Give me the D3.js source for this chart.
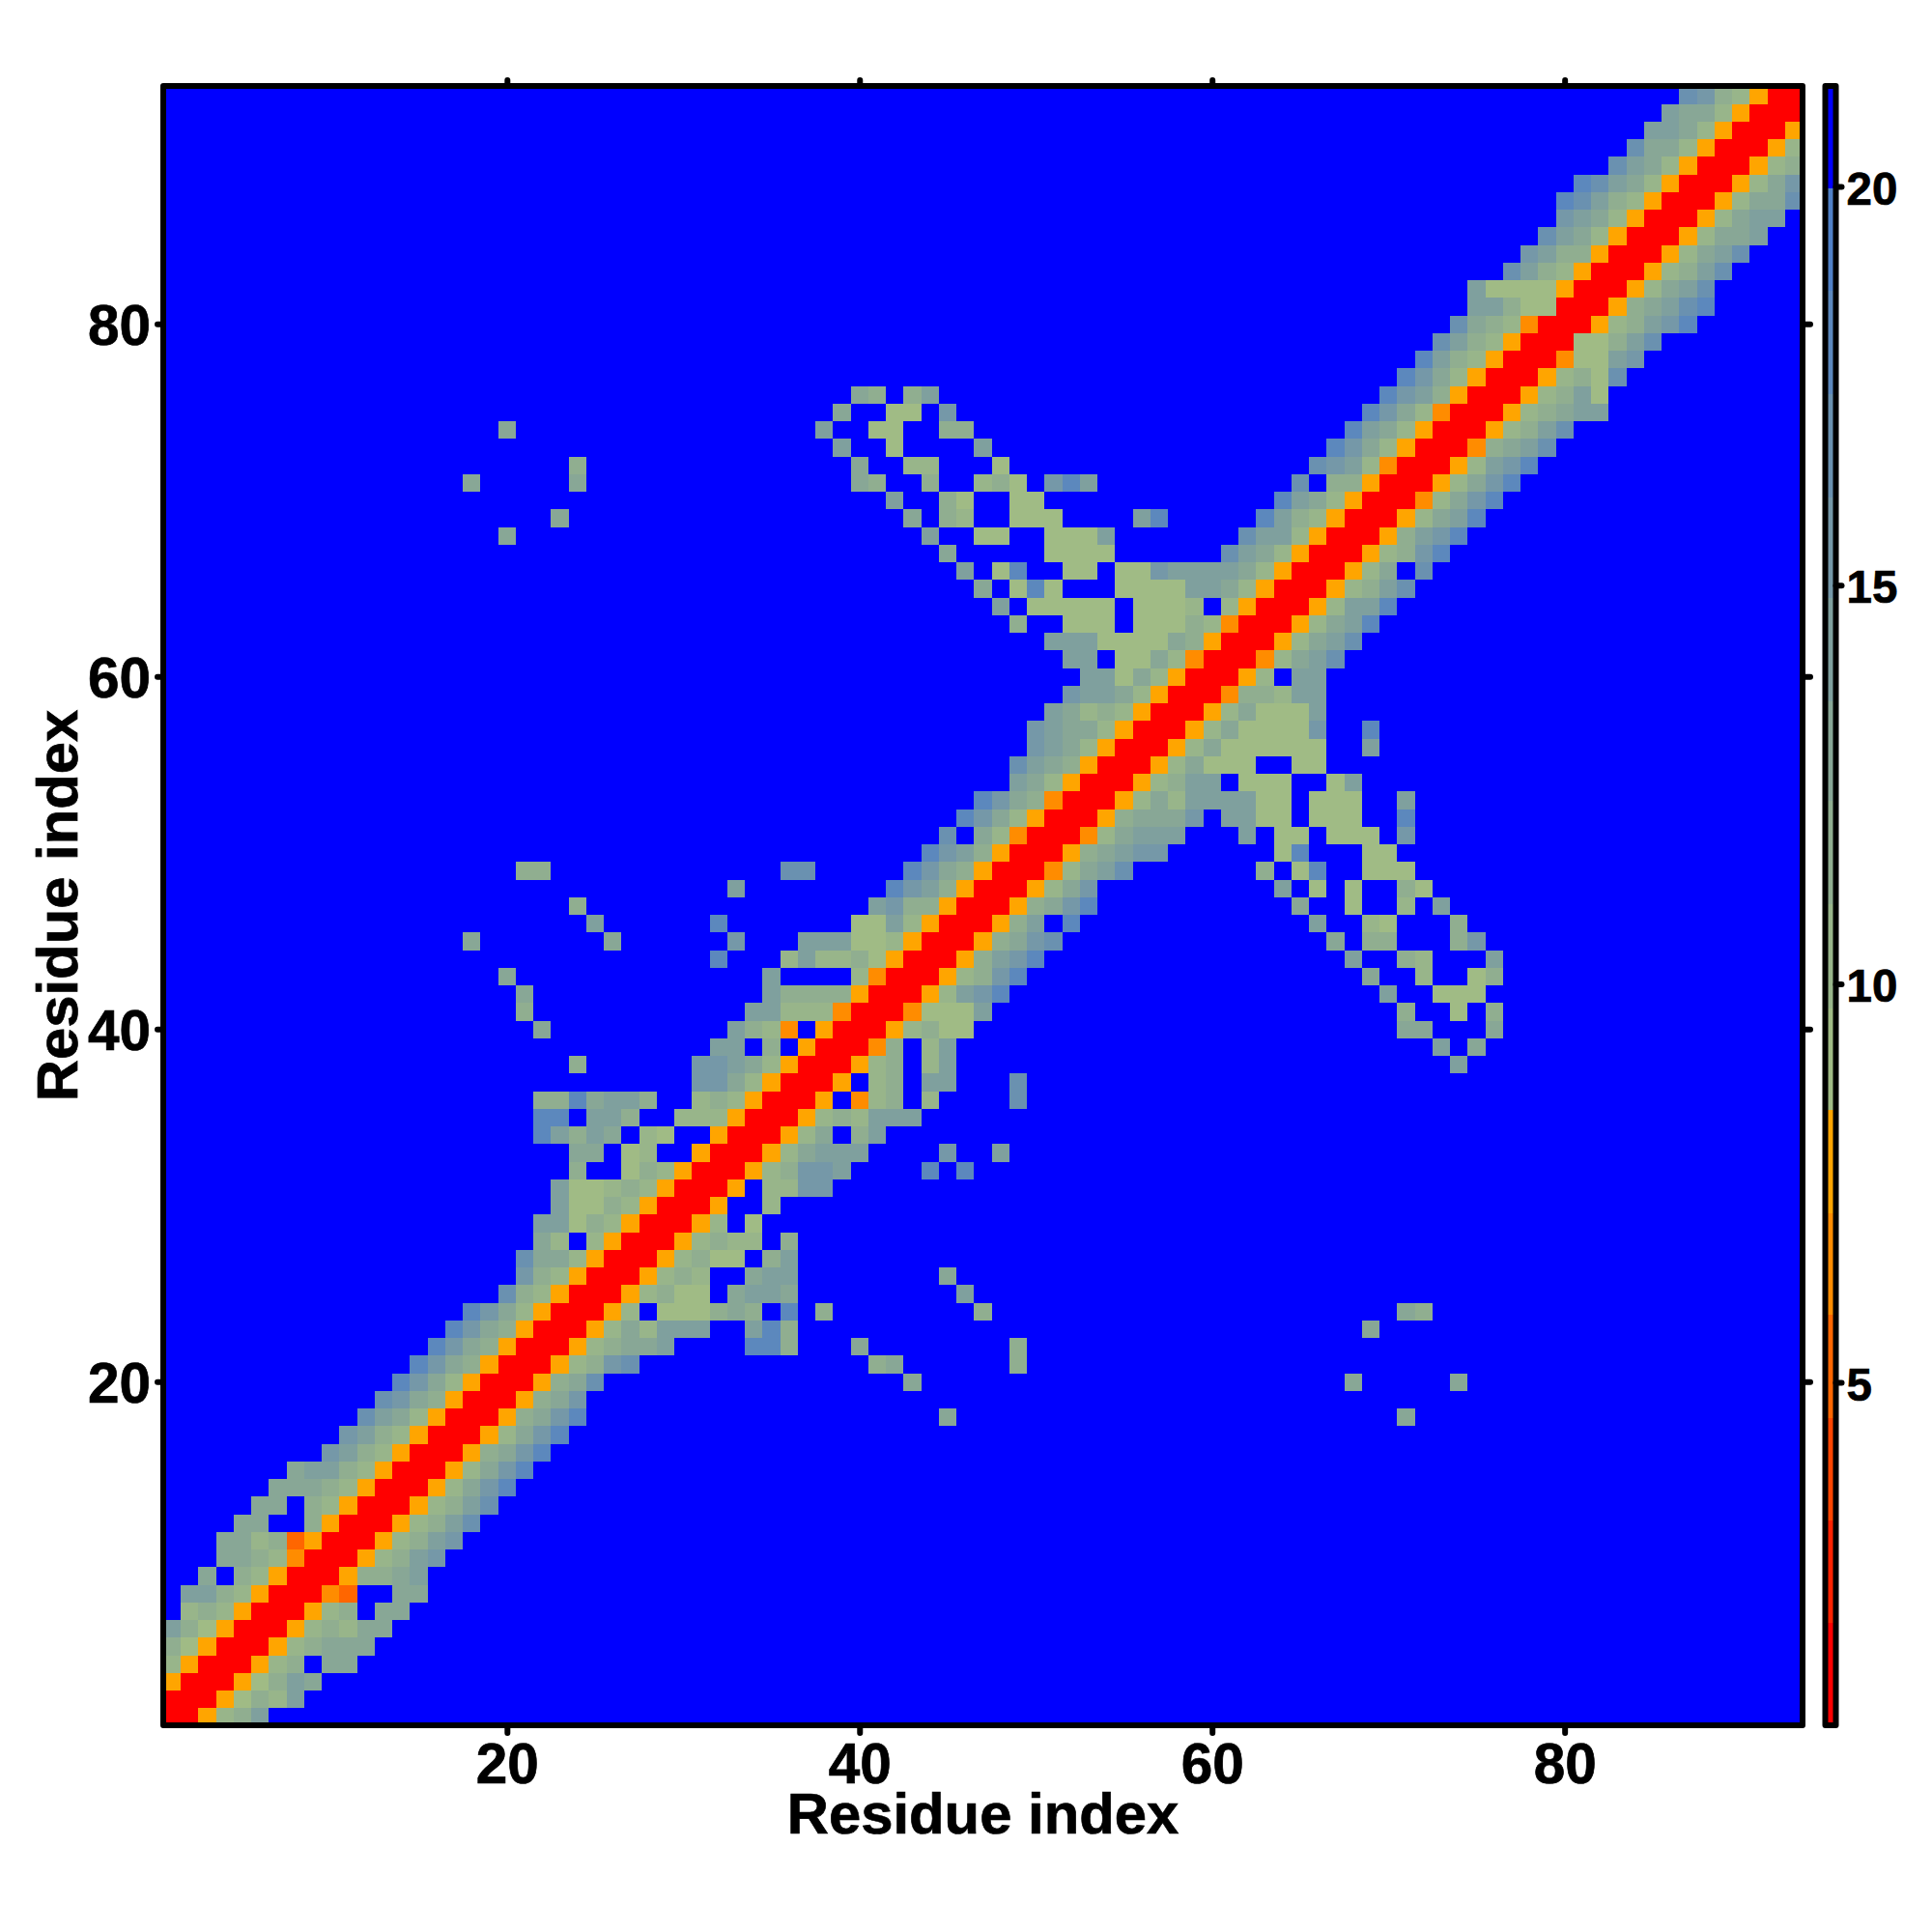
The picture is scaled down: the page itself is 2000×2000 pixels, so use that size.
<!DOCTYPE html>
<html>
<head>
<meta charset="utf-8">
<script src="https://cdn.jsdelivr.net/npm/d3@7"></script>
<style>
html,body{margin:0;padding:0;background:#fff}
text{font-family:"Liberation Sans",Arial,sans-serif;font-weight:bold;fill:#000;stroke:#000;stroke-width:0.7px}
</style>
</head>
<body>
<svg id="chart" width="2000" height="2000"></svg>
<script>
// Symmetric distance map: one entry per residue y, cells listed for x>y.
// First run begins at x=y+1; further runs are written "column:codes". "." = beyond cut-off.
const contactRows = [
"ro235","ro1325","ro1354","ro23.44","ro23444","ro23244","ro23.44","rde..44","ro3345","ro2356",
"ro2356","ro2357","ro2357","ro2468","ro2468","ro3468","ro2468","ro3468 45:4 71:4","ro346","ro347 43:4 68:4 74:4",
"ro2367 41:34 49:3","ro23445 34:883 40:4 49:3","ro242555 34:583 69:4","ro2.111343 36:8 38:3 47:3 71:43","ro2311.4554 46:5","ro232..455 45:4","ro2311.35","ro2322.3","ro2.1","ro..2",
"ro.2266","ro23665 44:8 46:8","ro24555 45:6 48:5","ro24.35","ro232555","ro.d23.2 49:7","ro.23.55 49:7","ro23.25 74:5","rd3.25 73:5.4","ro2311 71:44 76:4",
"rd1115 71:3 74:1 76:3","ro2568 70:5 73:111","ro2368 69:4 72:2 75:13","ro3568 68:5 71:32 76:5","ro3467 67:4 69:33 74:36","ro35.8 66:5 69:21 74:3","ro3468 65:4 68:1 71:2 73:5","ro246 64:5 66:1 68:1 71:31","rd2457 63:3 65:18 69:111","ro34566 64:18 69:11",
"rd24555 62:5 64:11 67:111 71:6","ro34446 61:5511 66:111 71:8","ro242555511 66:111 71:5","ro2355.111 67:15","ro24111 65:11","ro24111111 69:5","ro2411116 69:8","ro241115","rd33255","ro2.55",
"rd2457","ro2457","ro2458","ro2558","ro2357","ro24.7","ro2368","ro3568","ro2458","rd2468",
"ro2468","ro2568","rd3457","ro2357","ro23455","ro2351","ro2317","rd1156","r11357","ro23568",
"ro34578","ro2457","ro2357","ro2457","ro2445","ro2455","ro2447","ro246","ro23","ro2",
"ro","r",""
];
// Distance in Angstrom that each code stands for
const codeDistance = {r:1.3,e:5.2,d:6.5,o:7.8,"1":9.1,"2":10.3,"3":11.6,"4":12.9,"5":14.2,"6":15.5,"7":16.8,"8":18.1,"9":19.4};
const farDistance = 20.6;
const residueCount = 93;
const residueTicks = [20,40,60,80];
const barTicks = [5,10,15,20];
const barDomain = [0.7,21.26];
const barThresholds = [1.985,3.27,4.56,5.85,7.13,8.42,9.7,11,12.3,13.55,14.85,16.1,17.4,18.7,19.98];
const barColors = ["#FF0000","#FF2200","#FF4500","#FF6600","#FF8C00","#FFA500","#A0BB85","#98B58A","#90AE90","#88A796","#7FA09E","#7598A8","#6A91B0","#5C88BD","#5080C6","#0000FF"];

const svg = d3.select("#chart");
const L=169,R=1866,T=89,B=1786;
const x = d3.scaleLinear().domain([0.5,residueCount+0.5]).range([L,R]);
const y = d3.scaleLinear().domain([0.5,residueCount+0.5]).range([B,T]);
const color = d3.scaleThreshold().domain(barThresholds).range(barColors);

const matrix = d3.range(residueCount).map(()=>new Array(residueCount).fill(farDistance));
contactRows.forEach((row,i)=>{
  matrix[i][i]=codeDistance.r;
  row.split(" ").forEach((run,n)=>{
    if(!run) return;
    let start=i+2, codes=run;
    if(n>0){const p=run.split(":"); start=+p[0]; codes=p[1];}
    [...codes].forEach((c,k)=>{
      if(c==="."||start+k>residueCount) return;
      const j=start+k-1;
      matrix[i][j]=codeDistance[c];
      matrix[j][i]=codeDistance[c];
    });
  });
});
const cells=[];
matrix.forEach((r,i)=>r.forEach((d,j)=>cells.push({yi:i+1,xi:j+1,d})));

svg.append("g").attr("shape-rendering","crispEdges").selectAll("rect").data(cells).join("rect")
  .attr("x",c=>x(c.xi-0.5)).attr("y",c=>y(c.yi+0.5))
  .attr("width",x(1.5)-x(0.5)+0.5).attr("height",y(0.5)-y(1.5)+0.5)
  .attr("fill",c=>color(c.d));

function styleAxis(g,size){
  g.select(".domain").remove();
  g.selectAll(".tick line").attr("stroke","#000").attr("stroke-width",6).attr("stroke-linecap","round");
  g.selectAll(".tick text").attr("font-size",size).attr("fill","#000");
}
const fmt=d3.format("d");
const bottom=svg.append("g").attr("transform",`translate(0,${B})`).call(d3.axisBottom(x).tickValues(residueTicks).tickFormat(fmt).tickSize(8));
styleAxis(bottom,58.5); bottom.selectAll(".tick text").attr("y",60).attr("dy",0);
const top_=svg.append("g").attr("transform",`translate(0,${T})`).call(d3.axisTop(x).tickValues(residueTicks).tickFormat("").tickSize(6));
styleAxis(top_,58);
const left=svg.append("g").attr("transform",`translate(${L},0)`).call(d3.axisLeft(y).tickValues(residueTicks).tickFormat(fmt).tickSize(6));
styleAxis(left,58.5); left.selectAll(".tick text").attr("x",-13).attr("dy","0.36em");
const right=svg.append("g").attr("transform",`translate(${R},0)`).call(d3.axisRight(y).tickValues(residueTicks).tickFormat("").tickSize(8));
styleAxis(right,58);

svg.append("rect").attr("x",L).attr("y",T).attr("width",R-L).attr("height",B-T)
  .attr("fill","none").attr("stroke","#000").attr("stroke-width",6).attr("stroke-linejoin","round");

svg.append("text").attr("x",(L+R)/2).attr("y",1898).attr("text-anchor","middle").attr("font-size",59.8).text("Residue index");
svg.append("text").attr("transform",`translate(80,${(T+B)/2}) rotate(-90)`).attr("text-anchor","middle").attr("font-size",59.8).text("Residue index");

// Colour bar
const barL=1889.5,barR=1900.5;
const by=d3.scaleLinear().domain(barDomain).range([B,T]);
const edges=[barDomain[0],...barThresholds,barDomain[1]];
svg.append("g").attr("shape-rendering","crispEdges").selectAll("rect").data(barColors).join("rect")
  .attr("x",barL).attr("width",barR-barL)
  .attr("y",(c,i)=>by(edges[i+1])).attr("height",(c,i)=>by(edges[i])-by(edges[i+1])+0.5)
  .attr("fill",c=>c);
svg.append("rect").attr("x",barL).attr("y",T).attr("width",barR-barL).attr("height",B-T)
  .attr("fill","none").attr("stroke","#000").attr("stroke-width",6).attr("stroke-linejoin","round");
const barAxis=svg.append("g").attr("transform",`translate(${barR},0)`).call(d3.axisRight(by).tickValues(barTicks).tickFormat(fmt).tickSize(6));
styleAxis(barAxis,47.5); barAxis.selectAll(".tick text").attr("x",11).attr("dy","0.38em");
</script>
</body>
</html>
